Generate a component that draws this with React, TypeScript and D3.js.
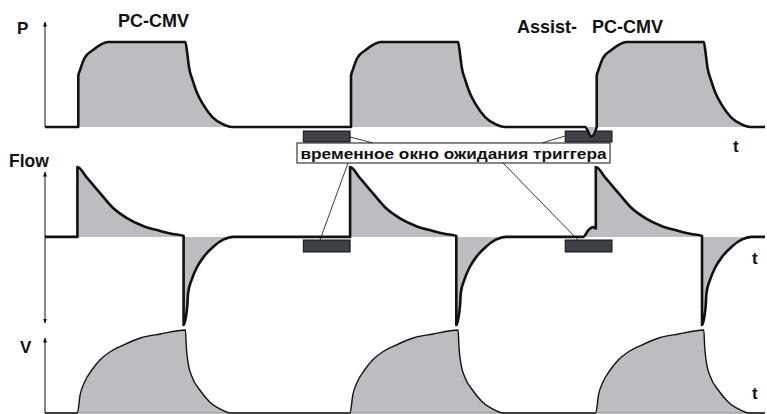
import React from "react";
import * as d3 from "d3";

// time in s
const pressure: [number, number][] = [
  [0, 0], [0.37, 0], [0.37, 15], [0.39, 16.8], [0.44, 20.3], [0.53, 22.6], [0.61, 24.1], [0.7, 25],
  [1.56, 25], [1.58, 21.8], [1.6, 17.6], [1.64, 13.8], [1.69, 10], [1.76, 6.5], [1.86, 2.9], [1.97, 0.9], [2.08, 0],
  [3.4, 0], [3.4, 15], [3.42, 16.8], [3.47, 20.3], [3.56, 22.6], [3.64, 24.1], [3.73, 25],
  [4.59, 25], [4.61, 21.8], [4.63, 17.6], [4.67, 13.8], [4.72, 10], [4.79, 6.5], [4.89, 2.9], [5.0, 0.9], [5.11, 0],
  [6.0, 0], [6.07, -2.8], [6.13, 0], [6.13, 15], [6.15, 16.8], [6.2, 20.3], [6.29, 22.6], [6.37, 24.1], [6.46, 25],
  [7.32, 25], [7.34, 21.8], [7.36, 17.6], [7.4, 13.8], [7.45, 10], [7.52, 6.5], [7.62, 2.9], [7.73, 0.9], [7.84, 0], [8.0, 0],
];

const flow: [number, number][] = [
  [0, 0], [0.36, 0], [0.36, 1.0], [0.47, 0.84], [0.61, 0.63], [0.76, 0.41], [0.91, 0.27], [1.09, 0.157],
  [1.28, 0.086], [1.42, 0.043], [1.54, 0.014], [1.54, -1.26], [1.58, -1.0], [1.59, -0.8], [1.63, -0.61],
  [1.69, -0.43], [1.76, -0.29], [1.87, -0.14], [1.98, -0.04], [2.09, 0],
  [3.39, 0], [3.39, 1.0], [3.5, 0.84], [3.64, 0.63], [3.79, 0.41], [3.94, 0.27], [4.12, 0.157],
  [4.31, 0.086], [4.45, 0.043], [4.57, 0.014], [4.57, -1.26], [4.61, -1.0], [4.62, -0.8], [4.66, -0.61],
  [4.72, -0.43], [4.79, -0.29], [4.9, -0.14], [5.01, -0.04], [5.12, 0],
  [5.98, 0], [6.04, 0.1], [6.09, 0.14], [6.12, 0.12], [6.12, 1.0], [6.23, 0.84], [6.37, 0.63], [6.52, 0.41],
  [6.67, 0.27], [6.85, 0.157], [7.04, 0.086], [7.18, 0.043], [7.3, 0.014], [7.3, -1.26], [7.34, -1.0],
  [7.35, -0.8], [7.39, -0.61], [7.45, -0.43], [7.52, -0.29], [7.63, -0.14], [7.74, -0.04], [7.85, 0], [8.0, 0],
];

const volume: [number, number][] = [
  [0, 0], [0.36, 0], [0.39, 0.217], [0.44, 0.373], [0.52, 0.518], [0.61, 0.639], [0.72, 0.735], [0.87, 0.819],
  [1.06, 0.904], [1.28, 0.952], [1.56, 1.0], [1.57, 0.795], [1.59, 0.602], [1.64, 0.42], [1.72, 0.277],
  [1.83, 0.133], [1.97, 0.036], [2.06, 0],
  [3.39, 0], [3.42, 0.217], [3.47, 0.373], [3.55, 0.518], [3.64, 0.639], [3.75, 0.735], [3.9, 0.819],
  [4.09, 0.904], [4.31, 0.952], [4.59, 1.0], [4.6, 0.795], [4.62, 0.602], [4.67, 0.42], [4.75, 0.277],
  [4.86, 0.133], [5.0, 0.036], [5.09, 0],
  [6.12, 0], [6.15, 0.217], [6.2, 0.373], [6.28, 0.518], [6.37, 0.639], [6.48, 0.735], [6.63, 0.819],
  [6.82, 0.904], [7.04, 0.952], [7.32, 1.0], [7.33, 0.795], [7.35, 0.602], [7.4, 0.42], [7.48, 0.277],
  [7.59, 0.133], [7.73, 0.036], [7.82, 0], [8.0, 0],
];

// trigger waiting windows (s)
const windowStart = [2.87, 5.78];
const windowEnd = [3.39, 6.3];

const titles = ["PC-CMV", "Assist-", "PC-CMV"];
const annotation = "временное окно ожидания триггера";

const W = 767;
const H = 414;
const FONT = "'Liberation Sans', Arial, Helvetica, sans-serif";
const GRAY = "#bcbdc1";
const DARK = "#3e4147";

const x = d3.scaleLinear().domain([0, 8]).range([45, 765]);
const yP = d3.scaleLinear().domain([0, 25]).range([127, 42]);
const yF = d3.scaleLinear().domain([-1.26, 1.0]).range([325, 167]);
const yV = d3.scaleLinear().domain([0, 1]).range([413, 330]);

function paths(data: [number, number][], y: d3.ScaleLinear<number, number>) {
  const line = d3.line<[number, number]>().x(d => x(d[0])).y(d => y(d[1])).curve(d3.curveMonotoneX);
  const area = d3.area<[number, number]>().x(d => x(d[0])).y0(y(0)).y1(d => y(d[1])).curve(d3.curveMonotoneX);
  return { line: line(data) || "", area: area(data) || "" };
}

export default function App() {
  const p = paths(pressure, yP);
  const f = paths(flow, yF);
  const v = paths(volume, yV);
  const ax = x(0);

  const boxX = 297, boxY = 143, boxW = 313, boxH = 20;
  const upY = 131, upH = 11, loY = 240, loH = 12;
  const r0a = x(windowStart[0]), r0b = x(windowEnd[0]);
  const r1a = x(windowStart[1]), r1b = x(windowEnd[1]);

  const label = { fontFamily: FONT, fontWeight: 700 as const, fill: "#111" };

  return (
    <svg width={W} height={H} style={{ position: "absolute", left: 0, top: 0, background: "#fff" }}>
      <defs>
        <marker id="arr" viewBox="0 0 10 10" refX="9" refY="5" markerWidth="5" markerHeight="7" orient="auto-start-reverse" markerUnits="userSpaceOnUse">
          <path d="M0,1 L10,5 L0,9 Z" fill="#111" />
        </marker>
      </defs>

      {/* trigger windows (under the curves so the effort notch shows) */}
      {[[r0a, r0b], [r1a, r1b]].map(([a, b], i) => (
        <g key={i}>
          <rect x={a} y={upY} width={b - a} height={upH} fill={DARK} stroke="#111" strokeWidth={1} />
          <rect x={a} y={loY} width={b - a} height={loH} fill={DARK} stroke="#111" strokeWidth={1} />
        </g>
      ))}

      {/* fills */}
      <path d={p.area} fill={GRAY} />
      <path d={f.area} fill={GRAY} />
      <path d={v.area} fill={GRAY} />

      {/* axes */}
      <line x1={ax} y1={yP(0)} x2={ax} y2={22} stroke="#111" strokeWidth={1} markerEnd="url(#arr)" />
      <line x1={ax} y1={323} x2={ax} y2={172} stroke="#111" strokeWidth={1} markerEnd="url(#arr)" markerStart="url(#arr)" />
      <line x1={ax} y1={yV(0)} x2={ax} y2={338} stroke="#111" strokeWidth={1} markerEnd="url(#arr)" />
      <line x1={ax} y1={yV(0)} x2={x(8)} y2={yV(0)} stroke="#888" strokeWidth={1} />

      {/* curves */}
      <path d={p.line} fill="none" stroke="#111" strokeWidth={2.6} strokeLinejoin="round" />
      <path d={f.line} fill="none" stroke="#111" strokeWidth={2.6} strokeLinejoin="round" />
      <path d={v.line} fill="none" stroke="#111" strokeWidth={1.4} strokeLinejoin="round" />

      {/* leader lines */}
      <g stroke="#222" strokeWidth={0.9}>
        <line x1={r0b} y1={upY + 6} x2={373} y2={boxY} />
        <line x1={r1a} y1={upY + 5} x2={542} y2={boxY} />
        <line x1={348} y1={boxY + boxH} x2={320} y2={loY} />
        <line x1={503} y1={boxY + boxH} x2={578} y2={loY} />
      </g>

      <rect x={boxX} y={boxY} width={boxW} height={boxH} fill="#fff" stroke="#111" strokeWidth={1} />
      <text x={boxX + boxW / 2} y={boxY + 15.5} textAnchor="middle" fontSize={15.5} textLength={306} lengthAdjust="spacingAndGlyphs" {...label}>
        {annotation}
      </text>

      {/* labels */}
      <text x={118} y={27} fontSize={18} {...label}>{titles[0]}</text>
      <text x={517} y={33} fontSize={18} {...label}>{titles[1]}</text>
      <text x={592} y={33} fontSize={18} {...label}>{titles[2]}</text>

      <text x={17} y={34} fontSize={17} {...label}>P</text>
      <text x={9} y={167} fontSize={17.5} {...label}>Flow</text>
      <text x={20} y={353} fontSize={17} {...label}>V</text>

      <text x={733} y={152} fontSize={17} {...label}>t</text>
      <text x={752} y={264} fontSize={17} {...label}>t</text>
      <text x={752} y={399} fontSize={17} {...label}>t</text>
    </svg>
  );
}
